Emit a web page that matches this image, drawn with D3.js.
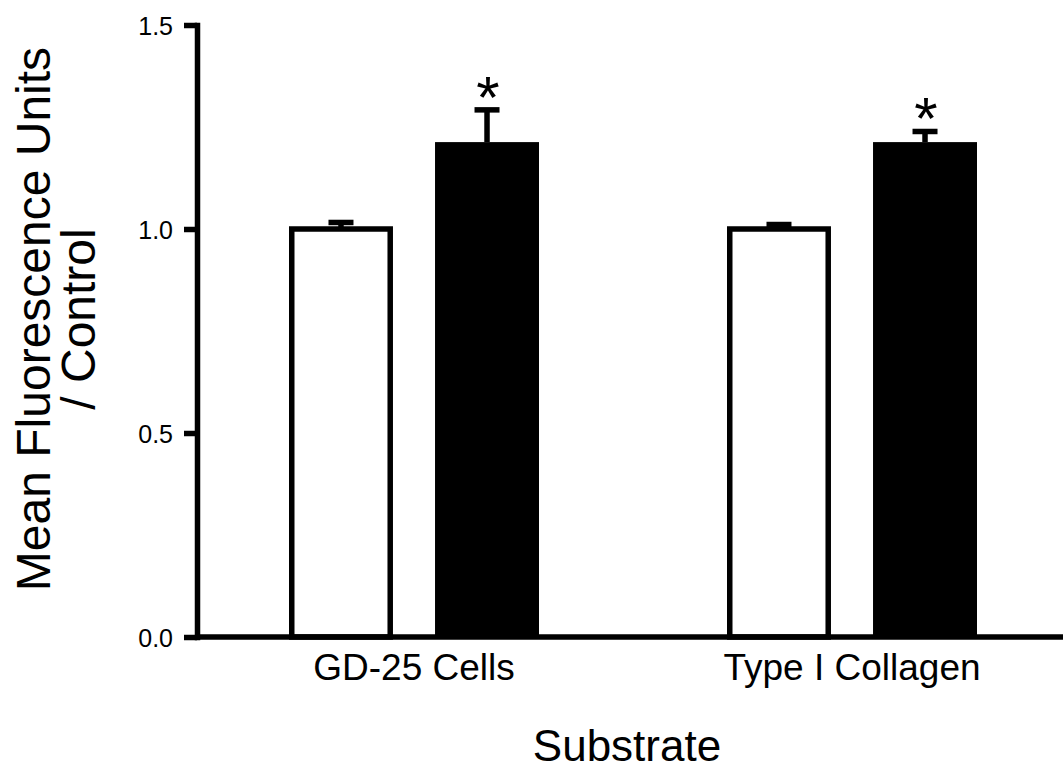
<!DOCTYPE html>
<html>
<head>
<meta charset="utf-8">
<script src="https://cdn.jsdelivr.net/npm/d3@7"></script>
<style>
  body { margin: 0; background: #fff; }
  text { font-family: "Liberation Sans", Arial, sans-serif; fill: #000; }
</style>
</head>
<body>
<div id="chart"></div>
<script>
// data
var substrates = ["GD-25 Cells", "Type I Collagen"];
var conditions = ["control", "treated"];
var meanValues = [[1.0, 1.213], [1.0, 1.213]];
var errValues = [[0.016, 0.079], [0.011, 0.026]];
var starred = [[false, true], [false, true]];
var yTicks = [0, 0.5, 1.0, 1.5];

var W = 1063, H = 770;
var axisX = 197, y0 = 637, y1 = 25;
var lw = 5.5;

var svg = d3.select("#chart").append("svg")
    .attr("width", W)
    .attr("height", H);

var y = d3.scaleLinear().domain([0, 1.5]).range([y0, y1]);

// outer band for the substrates, inner band for the two conditions
var x = d3.scaleBand().domain(substrates).range([195, 1071]).padding(0);
var xInner = d3.scaleBand().domain(conditions).range([94, 344]).paddingInner(0.288).paddingOuter(0);

var groups = svg.selectAll(".grp")
    .data(substrates)
    .enter().append("g")
    .attr("class", "grp")
    .attr("transform", function (d) { return "translate(" + x(d) + ",0)"; });

groups.each(function (s, i) {
    var g = d3.select(this);
    conditions.forEach(function (c, j) {
        var v = meanValues[i][j], e = errValues[i][j];
        var bx = xInner(c), bw = xInner.bandwidth();
        var cx = bx + bw / 2;

        // error bar (upper only), drawn first so the bar covers the stem
        g.append("line")
            .attr("x1", cx).attr("x2", cx)
            .attr("y1", y(v)).attr("y2", y(v + e))
            .attr("stroke", "#000").attr("stroke-width", lw);
        g.append("line")
            .attr("x1", cx - 12.5).attr("x2", cx + 12.5)
            .attr("y1", y(v + e)).attr("y2", y(v + e))
            .attr("stroke", "#000").attr("stroke-width", lw);

        if (j == 0) {
            g.append("rect")
                .attr("x", bx + lw / 2).attr("width", bw - lw)
                .attr("y", y(v)).attr("height", y(0) - y(v))
                .attr("fill", "#fff").attr("stroke", "#000").attr("stroke-width", lw);
        } else {
            g.append("rect")
                .attr("x", bx).attr("width", bw)
                .attr("y", y(v)).attr("height", y(0) - y(v))
                .attr("fill", "#000");
        }

        if (starred[i][j]) {
            g.append("text")
                .attr("x", cx + 1)
                .attr("y", y(v + e) + 8)
                .attr("text-anchor", "middle")
                .style("font-size", "60px")
                .text("*");
        }
    });

    g.append("text")
        .attr("x", x.bandwidth() / 2)
        .attr("y", 680)
        .attr("text-anchor", "middle")
        .style("font-size", "37px")
        .text(s);
});

// y axis
var yAxis = d3.axisLeft(y)
    .tickValues(yTicks)
    .tickFormat(d3.format(".1f"))
    .tickSize(13)
    .tickSizeOuter(0)
    .tickPadding(11);

var ya = svg.append("g")
    .attr("transform", "translate(" + axisX + ",0)")
    .call(yAxis)
    .attr("font-size", 25)
    .attr("font-family", "'Liberation Sans', Arial, sans-serif");
ya.select(".domain").attr("stroke-width", lw).attr("stroke-linecap", "square");
ya.selectAll(".tick line").attr("stroke-width", lw);
ya.selectAll(".tick text")
    .attr("font-size", 25)
    .style("font-size", "25px")
    .attr("dy", "0.36em");

// x baseline
svg.append("line")
    .attr("x1", axisX).attr("x2", W)
    .attr("y1", y0).attr("y2", y0)
    .attr("stroke", "#000").attr("stroke-width", lw);

// axis titles
var yt = svg.append("text")
    .attr("transform", "translate(50,319) rotate(-90)")
    .attr("text-anchor", "middle")
    .style("font-size", "48px");
yt.append("tspan").attr("x", 0).attr("y", 0).text("Mean Fluorescence Units");
yt.append("tspan").attr("x", 0).attr("y", 45).text("/ Control");

svg.append("text")
    .attr("x", 627)
    .attr("y", 761)
    .attr("text-anchor", "middle")
    .style("font-size", "44px")
    .text("Substrate");
</script>
</body>
</html>
